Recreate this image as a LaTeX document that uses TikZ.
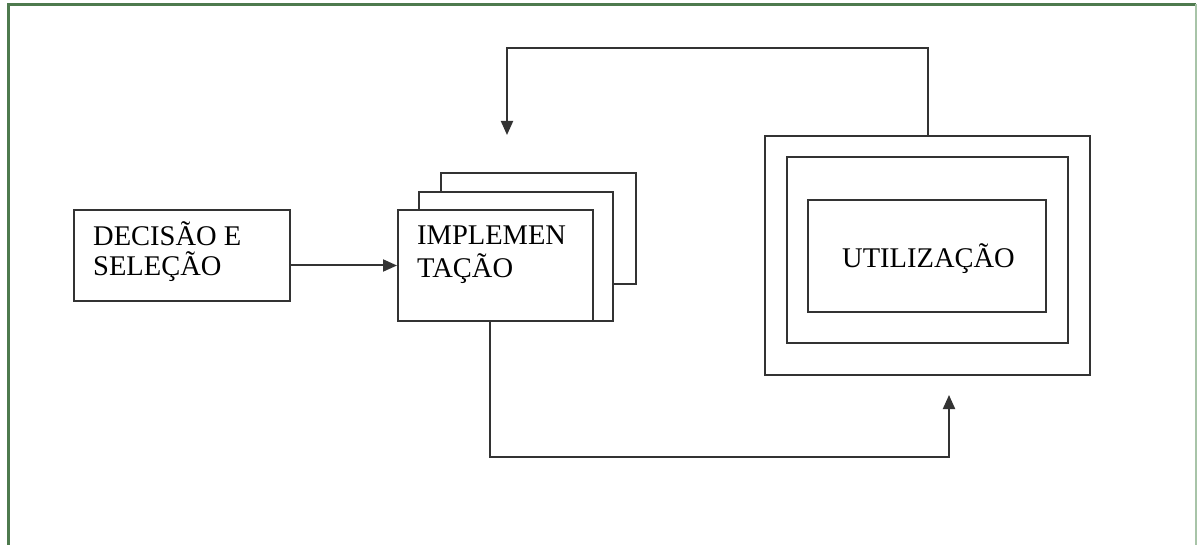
\documentclass[tikz,border=0pt]{standalone}
\usepackage{fontspec}
\setmainfont{Liberation Serif}
\usetikzlibrary{arrows.meta}
\definecolor{framegreen}{HTML}{4E7A4E}
\definecolor{framelight}{HTML}{A8C4A8}
\definecolor{ink}{HTML}{333333}
\tikzset{
  box/.style={draw=ink, line width=2pt, fill=white, rectangle, inner sep=0pt},
  conn/.style={draw=ink, line width=2pt, -{Triangle[length=14pt,width=12pt]}},
  lbl/.style={anchor=base west, inner sep=0pt, font=\fontsize{28.5}{32}\selectfont},
}
\begin{document}
\begin{tikzpicture}[x=1pt, y=-1pt]
\useasboundingbox (0,0) rectangle (1197,545);
% outer frame
\draw[framegreen, line width=3pt] (8.5,545) -- (8.5,4.5) -- (1196,4.5);
\draw[framelight, line width=1.2pt] (1196,4.5) -- (1196,545);

% decision box
\node[box, minimum width=216pt, minimum height=91pt] (dec) at (182,255.5) {};
\node[lbl] (decA) at (93,246) {DECISÃO E};
\node[lbl] (decB) at (93,276) {SELEÇÃO};

% stacked implementation boxes
\node[box, minimum width=195pt, minimum height=111pt] (impl3) at (538.5,228.5) {};
\node[box, minimum width=194pt, minimum height=129pt] (impl2) at (516,256.5) {};
\node[box, minimum width=195pt, minimum height=111pt] (impl) at (495.5,265.5) {};
\node[lbl] (implA) at (417,245) {IMPLEMEN};
\node[lbl] (implB) at (417,278) {TAÇÃO};

% nested utilisation boxes
\node[box, minimum width=325pt, minimum height=239pt] (uo) at (927.5,255.5) {};
\node[box, minimum width=281pt, minimum height=186pt] (um) at (927.5,250) {};
\node[box, minimum width=238pt, minimum height=112pt] (ui) at (927,256) {};
\node[lbl] (uiA) at (842,268) {UTILIZAÇÃO};

% connectors
\coordinate (fbTip) at (507,135);
\coordinate (upTip) at (949,395);
\draw[conn] (impl.west -| dec.east) -- (impl.west);
\draw[conn] ([xshift=-5.5pt]impl.south) -- ++(0,135) -| (upTip);
\draw[conn] (uo.north) -- ++(0,-87) -| (fbTip);
\end{tikzpicture}
\end{document}
